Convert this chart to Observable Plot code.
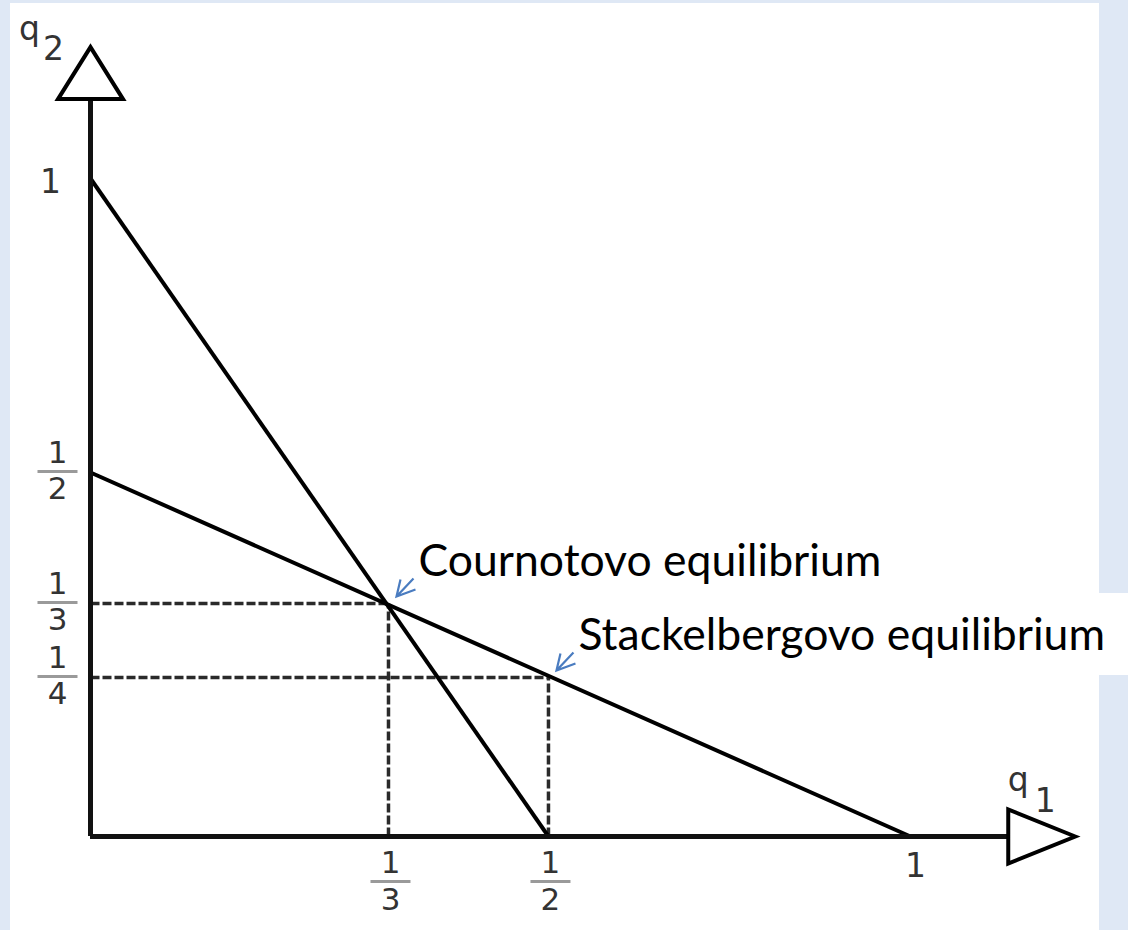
<!DOCTYPE html>
<html><head><meta charset="utf-8">
<script src="https://cdn.jsdelivr.net/npm/d3@7"></script>
<script src="https://cdn.jsdelivr.net/npm/@observablehq/plot@0.6"></script>
<style>
html,body{margin:0;padding:0;background:#dfe8f5;}
#wrap{position:relative;width:1128px;height:930px;overflow:hidden;}
.bg{position:absolute;background:#fff;}
#chart{position:absolute;left:0;top:0;}
</style></head><body>
<div id="wrap">
<div class="bg" style="left:10px;top:3px;width:1089px;height:927px"></div>
<div class="bg" style="left:1099px;top:593px;width:29px;height:82px"></div>
<div id="chart"></div>
</div>
<script>
// ---- data ----
const reaction1Q1 = [0, 1/2];   // q1 = (1 - q2)/2
const reaction1Q2 = [1, 0];
const reaction2Q1 = [0, 1];     // q2 = (1 - q1)/2
const reaction2Q2 = [1/2, 0];
const eqLabels = ["Cournotovo equilibrium", "Stackelbergovo equilibrium"];
const eqQ1 = [1/3, 1/2];
const eqQ2 = [1/3, 1/4];
const xFracTicks = [1/3, 1/2];
const xFracNum = ["1", "1"];
const xFracDen = ["3", "2"];
const yFracTicks = [1/4, 1/3, 1/2];
const yFracNum = ["1", "1", "1"];
const yFracDen = ["4", "3", "2"];
const unitTick = [1];
const unitLabel = ["1"];
const axisEnd = 1.135;
const axisNames = ["q", "q"];
const axisSubs = ["1", "2"];

// the hand-drawn original is not to scale: warp the value axes as drawn
const warpX = d3.scaleLinear().domain([0, 1/3, 1/2, 1]).range([0, 0.3634, 0.5585, 1]);
const warpY = d3.scaleLinear().domain([0, 1/4, 1/3, 1/2, 1]).range([0, 0.2416, 0.3541, 0.5532, 1]);

// ---- tables ----
const r1 = reaction1Q1.map((q1, i) => ({q1, q2: reaction1Q2[i]}));
const r2 = reaction2Q1.map((q1, i) => ({q1, q2: reaction2Q2[i]}));
const eq = eqLabels.map((label, i) => ({label, q1: eqQ1[i], q2: eqQ2[i]}));
const xf = xFracTicks.map((v, i) => ({v, num: xFracNum[i], den: xFracDen[i]}));
const yf = yFracTicks.map((v, i) => ({v, num: yFracNum[i], den: yFracDen[i]}));

// ---- symbols (styles) ----
const triUp = {draw(c){c.moveTo(0,-52);c.lineTo(32.5,0);c.lineTo(-32.5,0);c.closePath();}};
const triRight = {draw(c){c.moveTo(67,0);c.lineTo(0,-27);c.lineTo(0,27);c.closePath();}};
const fracBar = {draw(c){c.moveTo(-20,0);c.lineTo(20,0);}};
const pointer = {draw(c){c.moveTo(25,-25);c.lineTo(8,-7);c.moveTo(27,-14);c.lineTo(8,-7);c.lineTo(12,-24);}};

const tickFont = "DejaVu Sans, sans-serif";
const tickColor = "#333";
const fs = 31;

const chart = Plot.plot({
  width: 1128,
  height: 930,
  margin: 0,
  style: {background: "transparent", overflow: "visible"},
  x: {transform: warpX, domain: [0, 1], range: [90, 910], axis: null},
  y: {transform: warpY, domain: [0, 1], range: [836, 178], axis: null},
  marks: [
    // dashed guides
    Plot.link(eq, {x1: 0, x2: "q1", y1: "q2", y2: "q2", stroke: "#2a2a2a", strokeWidth: 3.5, strokeDasharray: "9,3"}),
    Plot.link(eq, {x1: "q1", x2: "q1", y1: 0, y2: "q2", stroke: "#2a2a2a", strokeWidth: 3.5, strokeDasharray: "9,3"}),
    // reaction curves
    Plot.line(r1, {x: "q1", y: "q2", stroke: "#000", strokeWidth: 4}),
    Plot.line(r2, {x: "q1", y: "q2", stroke: "#000", strokeWidth: 4}),
    // axes
    Plot.ruleY([0], {x1: 0, x2: axisEnd, stroke: "#111", strokeWidth: 5}),
    Plot.ruleX([0], {y1: 0, y2: axisEnd, stroke: "#111", strokeWidth: 5}),
    Plot.dot([0], {x: 0, y: axisEnd, symbol: triUp, fill: "#fff", stroke: "#000", strokeWidth: 4}),
    Plot.dot([0], {x: axisEnd, y: 0, symbol: triRight, fill: "#fff", stroke: "#000", strokeWidth: 4}),
    // axis names
    Plot.text([axisNames[1]], {x: 0, y: axisEnd, text: d => d, dx: -61, dy: -70, fontSize: 33, fontFamily: tickFont, fill: tickColor}),
    Plot.text([axisSubs[1]], {x: 0, y: axisEnd, text: d => d, dx: -37, dy: -50, fontSize: 33, fontFamily: tickFont, fill: tickColor}),
    Plot.text([axisNames[0]], {x: axisEnd, y: 0, text: d => d, dx: 10, dy: -56, fontSize: 33, fontFamily: tickFont, fill: tickColor}),
    Plot.text([axisSubs[0]], {x: axisEnd, y: 0, text: d => d, dx: 37, dy: -35, fontSize: 33, fontFamily: tickFont, fill: tickColor}),
    // unit ticks
    Plot.text(unitTick, {x: d => d, y: 0, text: (d, i) => unitLabel[i], dx: 5, dy: 30, fontSize: 33, fontFamily: tickFont, fill: tickColor}),
    Plot.text(unitTick, {x: 0, y: d => d, text: (d, i) => unitLabel[i], dx: -40, dy: 4, fontSize: 33, fontFamily: tickFont, fill: tickColor}),
    // fraction ticks on x
    Plot.text(xf, {x: "v", y: 0, text: "num", dx: 2, dy: 27, fontSize: fs, fontFamily: tickFont, fill: tickColor}),
    Plot.text(xf, {x: "v", y: 0, text: "den", dx: 2, dy: 64, fontSize: fs, fontFamily: tickFont, fill: tickColor}),
    Plot.dot(xf, {x: "v", y: 0, dx: 2, dy: 45, symbol: fracBar, stroke: "#9a9a9a", strokeWidth: 3}),
    // fraction ticks on y
    Plot.text(yf, {x: 0, y: "v", text: "num", dx: -33, dy: -19, fontSize: fs, fontFamily: tickFont, fill: tickColor}),
    Plot.text(yf, {x: 0, y: "v", text: "den", dx: -33, dy: 17, fontSize: fs, fontFamily: tickFont, fill: tickColor}),
    Plot.dot(yf, {x: 0, y: "v", dx: -33, dy: -1, symbol: fracBar, stroke: "#9a9a9a", strokeWidth: 3}),
    // equilibrium pointers and labels
    Plot.dot(eq, {x: "q1", y: "q2", symbol: pointer, stroke: "#4a7cc0", strokeWidth: 2.2, fill: "none"}),
    Plot.text(eq, {x: "q1", y: "q2", text: "label", textAnchor: "start", lineAnchor: "bottom", dx: 30, dy: -28, fontSize: 44.5, fontFamily: "Lato, sans-serif", fill: "#000"})
  ]
});
document.getElementById("chart").appendChild(chart);
</script>
</body></html>
